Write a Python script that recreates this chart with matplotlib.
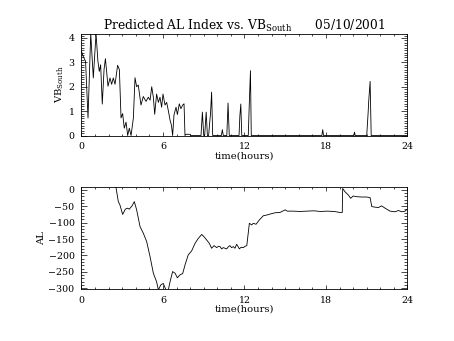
import matplotlib
matplotlib.use("Agg")
import matplotlib.pyplot as plt
from matplotlib.ticker import MultipleLocator
import numpy as np

plt.rcParams['font.family'] = ['DejaVu Serif']
plt.rcParams['mathtext.fontset'] = 'dejavuserif'

# predicted VB south
t_vb = [0.0, 0.12, 0.3, 0.48, 0.68, 0.87, 1.07, 1.21, 1.31, 1.41, 1.53, 1.66, 1.76,
        1.85, 1.95, 2.1, 2.22, 2.34, 2.47, 2.66, 2.79, 2.91, 3.03, 3.15, 3.28, 3.4,
        3.52, 3.65, 3.82, 3.94, 4.06, 4.18, 4.38, 4.55, 4.75, 4.92, 5.05, 5.17, 5.29,
        5.39, 5.53, 5.66, 5.78, 5.9, 6.0, 6.15, 6.27, 6.4, 6.52, 6.62, 6.71, 6.81,
        6.96, 7.06, 7.2, 7.32, 7.45, 7.55, 7.62, 7.7, 7.99, 8.05,
        8.8, 8.9, 9.0, 9.07, 9.18, 9.27, 9.36, 9.45, 9.5, 9.58, 9.66,
        10.3, 10.37, 10.44, 10.7, 10.79, 10.88,
        11.6, 11.66, 11.73, 11.8, 12.28, 12.36, 12.44, 12.5,
        17.7, 17.76, 17.82, 20.05, 20.1, 20.15,
        21.0, 21.1, 21.15, 21.25, 21.33, 24.0]
vb_south = [3.45, 3.25, 3.04, 0.72, 4.18, 2.36, 4.18, 3.04, 2.63, 2.9, 1.29, 2.7, 3.15,
            2.63, 2.02, 2.36, 2.1, 2.36, 2.1, 2.88, 2.7, 0.72, 0.9, 0.3, 0.55, 0.0,
            0.3, 0.0, 0.72, 2.37, 2.0, 2.07, 1.25, 1.6, 1.4, 1.57, 1.45, 2.0, 1.57,
            0.87, 1.7, 1.36, 1.57, 1.16, 1.7, 1.25, 1.36, 1.0, 0.63, 0.43, 0.0, 0.84,
            1.16, 0.86, 1.3, 1.1, 1.25, 1.3, 0.0, 0.05, 0.05, 0.0,
            0.0, 0.96, 0.0, 0.0, 0.96, 0.0, 0.0, 0.6, 0.9, 1.78, 0.0,
            0.0, 0.24, 0.0, 0.0, 1.33, 0.0,
            0.0, 0.8, 1.29, 0.0, 0.0, 1.4, 2.66, 0.0,
            0.0, 0.24, 0.0, 0.0, 0.14, 0.0,
            0.0, 0.9, 1.43, 2.22, 0.0, 0.0]

# predicted AL index
t_al = [2.45, 2.54, 2.71, 2.83, 3.03, 3.23, 3.38, 3.52, 3.72, 3.89, 4.06, 4.31, 4.55,
        4.8, 5.05, 5.29, 5.53, 5.66, 5.83, 6.02, 6.22, 6.39, 6.52, 6.71, 6.89, 7.06,
        7.25, 7.45, 7.62, 7.86, 8.11, 8.36, 8.6, 8.85, 9.02, 9.22, 9.41, 9.58, 9.76,
        9.95, 10.1, 10.2, 10.32, 10.44, 10.56, 10.69, 10.8, 10.93, 11.05, 11.18, 11.3,
        11.42, 11.52, 11.62, 11.75, 11.92, 12.05, 12.17, 12.36, 12.53, 12.65, 12.85,
        13.09, 13.39, 13.63, 13.88, 14.25, 14.62, 15.0, 15.15, 15.6, 16.1, 16.6, 17.1,
        17.6, 18.1, 18.6, 19.03, 19.2, 19.23, 19.4, 19.65, 19.82, 20.0, 20.26, 20.6,
        21.0, 21.25, 21.37, 21.62, 21.86, 22.1, 22.35, 22.72, 23.09, 23.33, 23.58,
        23.83, 23.95, 24.0]
al = [20, 7, -36, -46, -75, -59, -56, -59, -49, -36, -61, -112, -132,
      -158, -204, -254, -280, -305, -290, -285, -305, -305, -280, -249, -254, -268,
      -259, -255, -229, -198, -186, -163, -148, -136, -143, -153, -163, -178, -170,
      -176, -172, -173, -180, -176, -178, -180, -174, -170, -176, -173, -178,
      -166, -172, -180, -175, -176, -172, -170, -102, -107, -102, -105,
      -92, -79, -77, -74, -70, -69, -61, -65, -65, -66, -65, -64,
      -66, -65, -66, -69, -69, 4, -6, -16, -26, -19, -21, -22,
      -22, -24, -51, -53, -54, -49, -56, -65, -67, -63, -67,
      -65, -60, -62]

fig = plt.figure(figsize=(4.54, 3.41), dpi=100)
ax1 = fig.add_axes([0.1795, 0.6026, 0.718, 0.299])
ax2 = fig.add_axes([0.1795, 0.1525, 0.718, 0.2977])

ax1.plot(t_vb, vb_south, color='black', lw=0.6)
ax2.plot(t_al, al, color='black', lw=0.6)

ax1.set_ylim(0, 4.18)
ax2.set_ylim(-302, 7)

for ax in (ax1, ax2):
    ax.set_xlim(0, 24)
    ax.xaxis.set_major_locator(MultipleLocator(6))
    ax.xaxis.set_minor_locator(MultipleLocator(1))
    ax.tick_params(which='both', direction='in', top=True, right=True,
                   width=0.5, labelsize=6.8, pad=5)
    ax.tick_params(axis='x', which='major', length=3)
    ax.tick_params(axis='x', which='minor', length=1.5)
    ax.tick_params(axis='y', which='major', length=4.5)
    ax.tick_params(axis='y', which='minor', length=2.2)
    for s in ax.spines.values():
        s.set_linewidth(0.6)
    ax.set_xlabel('time(hours)', fontsize=7.2, labelpad=0)

ax1.yaxis.set_major_locator(MultipleLocator(1))
ax1.yaxis.set_minor_locator(MultipleLocator(0.1))
ax2.yaxis.set_major_locator(MultipleLocator(50))
ax2.yaxis.set_minor_locator(MultipleLocator(10))

ax1.set_ylabel(r'VB$_{\mathrm{South}}$', fontsize=7.2, labelpad=2)
ax2.set_ylabel('AL', fontsize=7.2, labelpad=2)
ax1.set_title(r'Predicted AL Index vs. VB$_{\mathrm{South}}$      05/10/2001',
              fontsize=8.8, pad=2)

fig.savefig('out.png', dpi=100)
